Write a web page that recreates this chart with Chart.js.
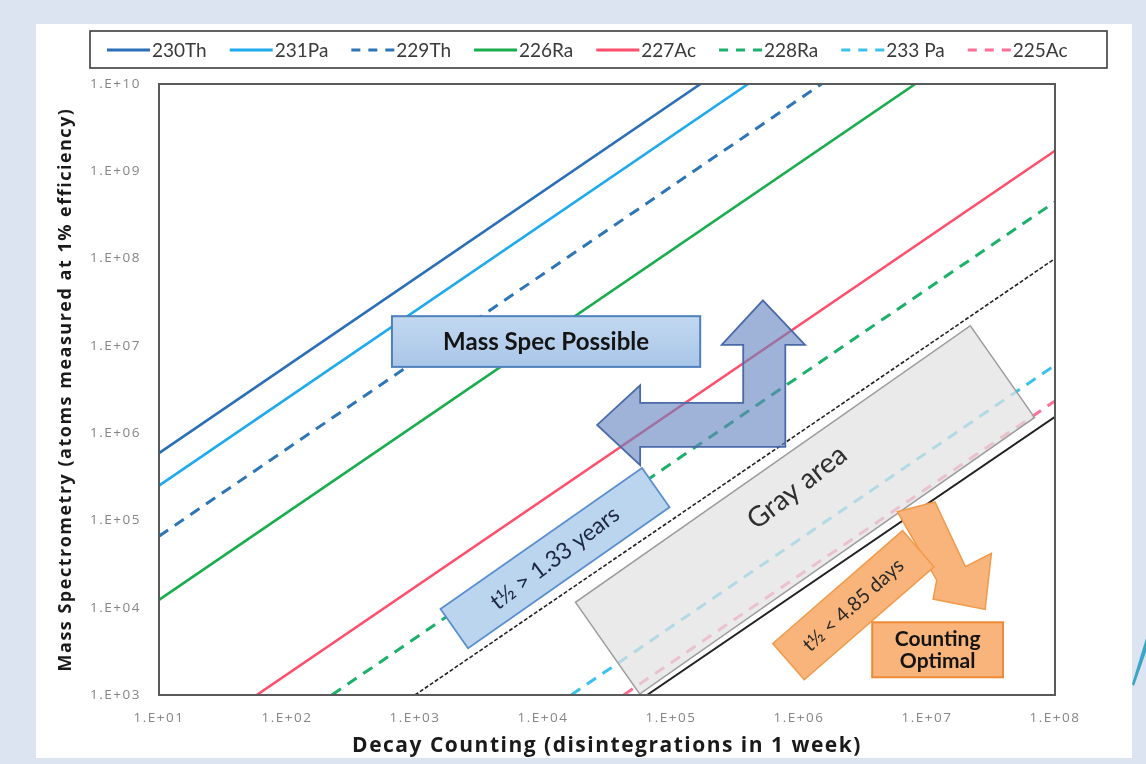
<!DOCTYPE html>
<html>
<head>
<meta charset="utf-8">
<script src="https://cdn.jsdelivr.net/npm/chart.js@4.4.1/dist/chart.umd.min.js"></script>
<style>
  html, body { margin: 0; padding: 0; background: #dbe4f0; }
  #wrap { width: 1146px; height: 764px; }
</style>
</head>
<body>
<div id="wrap"><canvas id="c" width="1146" height="764"></canvas></div>
<script>
// Isotope detection-limit lines: each is a straight line on log-log axes,
// given by its start and end point (atoms needed vs. decays per week).
const ISOTOPES = ['230Th', '231Pa', '229Th', '226Ra', '227Ac', '228Ra', '233 Pa', '225Ac'];
const X_START  = [10,     10,     10,     10,     58,     224,    1.66e4, 4.27e4];
const Y_START  = [5.9e5,  2.5e5,  6.6e4,  1.23e4, 1e3,    1e3,    1e3,    1e3];
const X_END    = [1.7e5,  4.0e5,  1.5e6,  8.1e6,  1e8,    1e8,    1e8,    1e8];
const Y_END    = [1e10,   1e10,   1e10,   1e10,   1.72e9, 4.46e8, 6.0e6,  2.34e6];

// Half-life boundary lines (black dotted / black solid)
const BOUNDS    = ['t½ = 1.33 years', 't½ = 4.85 days'];
const B_X_START = [1e3,  6.5e4];
const B_Y_START = [1e3,  1e3];
const B_X_END   = [1e8,  1e8];
const B_Y_END   = [1e8,  1.54e6];

const X_TICK_VALUES = [1e1, 1e2, 1e3, 1e4, 1e5, 1e6, 1e7, 1e8];
const X_TICK_LABELS = ['1.E+01', '1.E+02', '1.E+03', '1.E+04', '1.E+05', '1.E+06', '1.E+07', '1.E+08'];
const Y_TICK_VALUES = [1e3, 1e4, 1e5, 1e6, 1e7, 1e8, 1e9, 1e10];
const Y_TICK_LABELS = ['1.E+03', '1.E+04', '1.E+05', '1.E+06', '1.E+07', '1.E+08', '1.E+09', '1.E+10'];

// Line styling
const COLORS = ['#2a6fb8', '#1eaaec', '#2e75b6', '#1aad4e', '#ff4f6c', '#1cb06a', '#3cc0ec', '#ff6f93'];
const DASHED = [false, false, true, false, false, true, true, true];
const BOUND_COLORS = ['#222222', '#222222'];
const BOUND_DASH = [[4, 2], []];

const FONT = 'Lato, "Open Sans", sans-serif';
const AXIS_FONT = '"Open Sans", Lato, sans-serif';

const datasets = ISOTOPES.map((name, i) => ({
  label: name,
  data: [{ x: X_START[i], y: Y_START[i] }, { x: X_END[i], y: Y_END[i] }],
  borderColor: COLORS[i],
  backgroundColor: COLORS[i],
  borderWidth: DASHED[i] ? 3 : 2.6,
  borderDash: DASHED[i] ? [11, 8] : [],
  pointRadius: 0,
  showLine: true,
  fill: false,
  inLegend: true
}));
BOUNDS.forEach((name, i) => datasets.push({
  label: name,
  data: [{ x: B_X_START[i], y: B_Y_START[i] }, { x: B_X_END[i], y: B_Y_END[i] }],
  borderColor: BOUND_COLORS[i],
  borderWidth: i === 0 ? 1.6 : 2,
  borderDash: BOUND_DASH[i],
  pointRadius: 0,
  showLine: true,
  fill: false,
  inLegend: false
}));

// Slide background: blue-gray surround, white panel, teal accent stroke.
// Axis text is drawn with slightly open tracking.
const backdrop = {
  id: 'backdrop',
  beforeDraw(chart) {
    const ctx = chart.ctx;
    ctx.save();
    ctx.fillStyle = '#dbe4f0';
    ctx.fillRect(0, 0, chart.width, chart.height);
    ctx.fillStyle = '#ffffff';
    ctx.fillRect(36, 24, 1096, 734);
    ctx.fillStyle = '#3aa5c6';
    ctx.beginPath();
    ctx.moveTo(1132, 684);
    ctx.lineTo(1146, 638);
    ctx.lineTo(1146, 652);
    ctx.lineTo(1134, 686);
    ctx.closePath();
    ctx.fill();
    ctx.restore();
    ctx.letterSpacing = '1.5px';
  },
  beforeDatasetsDraw(chart) {
    chart.ctx.letterSpacing = '0px';
  }
};

function rotBox(ctx, cx, cy, w, h, deg, fill, stroke, lw) {
  ctx.save();
  ctx.translate(cx, cy);
  ctx.rotate(deg * Math.PI / 180);
  ctx.beginPath();
  ctx.rect(-w / 2, -h / 2, w, h);
  ctx.fillStyle = fill;
  ctx.fill();
  if (stroke) { ctx.strokeStyle = stroke; ctx.lineWidth = lw; ctx.stroke(); }
  ctx.restore();
}
function rotText(ctx, text, cx, cy, deg, font, color) {
  ctx.save();
  ctx.translate(cx, cy);
  ctx.rotate(deg * Math.PI / 180);
  ctx.font = font;
  ctx.fillStyle = color;
  ctx.textAlign = 'center';
  ctx.textBaseline = 'middle';
  ctx.fillText(text, 0, 0);
  ctx.restore();
}
function poly(ctx, pts, fill, stroke, lw) {
  ctx.beginPath();
  pts.forEach((p, i) => i ? ctx.lineTo(p[0], p[1]) : ctx.moveTo(p[0], p[1]));
  ctx.closePath();
  ctx.fillStyle = fill;
  ctx.fill();
  if (stroke) { ctx.strokeStyle = stroke; ctx.lineWidth = lw; ctx.lineJoin = 'miter'; ctx.stroke(); }
}

// Callout shapes, placed as fractions of the plotting area
const callouts = {
  id: 'callouts',
  afterDatasetsDraw(chart) {
    const { ctx, chartArea: a } = chart;
    const P = (u, v) => [a.left + u * (a.right - a.left), a.top + v * (a.bottom - a.top)];
    ctx.save();
    ctx.letterSpacing = '0px';

    // Gray area band
    const g = P(0.721, 0.697);
    rotBox(ctx, g[0], g[1], 482, 112, -35, 'rgba(226,226,226,0.72)', '#9c9c9c', 1.5);
    const gt = P(0.712, 0.660);
    rotText(ctx, 'Gray area', gt[0], gt[1], -38, '28px ' + FONT, '#2f2f2f');

    // Blue L-shaped arrow (up and left)
    const arrow = [
      [0.674, 0.354], [0.721, 0.427], [0.699, 0.427], [0.699, 0.594],
      [0.537, 0.594], [0.537, 0.624], [0.489, 0.558], [0.537, 0.493],
      [0.537, 0.522], [0.652, 0.522], [0.652, 0.427], [0.628, 0.427]
    ].map(p => P(p[0], p[1]));
    poly(ctx, arrow, 'rgba(100,132,192,0.62)', '#4a6aa8', 1.8);

    // "Mass Spec Possible" label box
    const m0 = P(0.260, 0.380), m1 = P(0.604, 0.463);
    const mg = ctx.createLinearGradient(0, m0[1], 0, m1[1]);
    mg.addColorStop(0, '#c3d8f0');
    mg.addColorStop(0.5, '#b6cfec');
    mg.addColorStop(1, '#a9c6e8');
    ctx.fillStyle = mg;
    ctx.fillRect(m0[0], m0[1], m1[0] - m0[0], m1[1] - m0[1]);
    ctx.strokeStyle = '#4f81bd';
    ctx.lineWidth = 2;
    ctx.strokeRect(m0[0], m0[1], m1[0] - m0[0], m1[1] - m0[1]);
    rotText(ctx, 'Mass Spec Possible', (m0[0] + m1[0]) / 2, (m0[1] + m1[1]) / 2 + 1, 0, 'bold 24px ' + FONT, '#141414');

    // Long half-life label
    const y1 = P(0.442, 0.776);
    rotBox(ctx, y1[0], y1[1], 246, 48, -35, '#bcd5ef', '#5b8fcf', 1.8);
    rotText(ctx, 't½ > 1.33 years', y1[0], y1[1], -37, '23px ' + FONT, '#1c2840');

    // Short half-life label with down-right arrow
    const orange = [
      [0.824, 0.700], [0.866, 0.684], [0.900, 0.790], [0.929, 0.768],
      [0.922, 0.860], [0.864, 0.843], [0.868, 0.812]
    ].map(p => P(p[0], p[1]));
    poly(ctx, orange, '#f8b47a', '#f29a4a', 1.5);
    const d1 = P(0.775, 0.853);
    rotBox(ctx, d1[0], d1[1], 172, 48, -41, '#f8b47a', '#f29a4a', 1.5);
    rotText(ctx, 't½ < 4.85 days', d1[0], d1[1], -42, '20px ' + FONT, '#2a2a2a');

    // "Counting Optimal" box
    const c0 = P(0.796, 0.881), c1 = P(0.942, 0.971);
    ctx.fillStyle = '#f9b47b';
    ctx.fillRect(c0[0], c0[1], c1[0] - c0[0], c1[1] - c0[1]);
    ctx.strokeStyle = '#ee8a36';
    ctx.lineWidth = 2;
    ctx.strokeRect(c0[0], c0[1], c1[0] - c0[0], c1[1] - c0[1]);
    const cx = (c0[0] + c1[0]) / 2, cy = (c0[1] + c1[1]) / 2;
    rotText(ctx, 'Counting', cx, cy - 11, 0, 'bold 21px ' + FONT, '#141414');
    rotText(ctx, 'Optimal', cx, cy + 11, 0, 'bold 21px ' + FONT, '#141414');

    // Plot frame
    ctx.strokeStyle = '#5a5a5a';
    ctx.lineWidth = 2;
    ctx.strokeRect(a.left, a.top, a.right - a.left, a.bottom - a.top);
    ctx.restore();
  }
};

// Horizontal legend in a framed box above the plot
const boxLegend = {
  id: 'boxLegend',
  afterDraw(chart) {
    const ctx = chart.ctx;
    const items = chart.data.datasets.filter(d => d.inLegend);
    ctx.save();
    ctx.letterSpacing = '0px';
    ctx.fillStyle = '#ffffff';
    ctx.fillRect(90, 31, 1017, 37);
    ctx.strokeStyle = '#3c3c3c';
    ctx.lineWidth = 1.6;
    ctx.strokeRect(90, 31, 1017, 37);
    ctx.font = '19px ' + FONT;
    ctx.textBaseline = 'middle';
    let x = 107;
    const y = 50;
    items.forEach(d => {
      ctx.strokeStyle = d.borderColor;
      ctx.lineWidth = 3;
      ctx.setLineDash(d.borderDash.length ? [9, 8] : []);
      ctx.beginPath();
      ctx.moveTo(x, y);
      ctx.lineTo(x + 43, y);
      ctx.stroke();
      ctx.setLineDash([]);
      ctx.fillStyle = '#3a3a3a';
      ctx.fillText(d.label, x + 45, y + 1);
      x += 45 + ctx.measureText(d.label).width + 23;
    });
    ctx.restore();
  }
};

const tickFont = { family: AXIS_FONT, size: 13.5 };

new Chart(document.getElementById('c'), {
  type: 'scatter',
  data: { datasets },
  options: {
    responsive: false,
    animation: false,
    devicePixelRatio: 1,
    layout: { padding: { left: 0, right: 91, top: 84, bottom: 0 } },
    plugins: { legend: { display: false }, tooltip: { enabled: false } },
    scales: {
      x: {
        type: 'logarithmic',
        min: 1e1, max: 1e8,
        afterBuildTicks: s => { s.ticks = X_TICK_VALUES.map(v => ({ value: v })); },
        afterFit: s => { s.height = 69; },
        grid: { display: false, drawTicks: false },
        border: { display: false },
        ticks: {
          autoSkip: false, maxRotation: 0, padding: 15,
          font: tickFont, color: '#858585',
          callback: (v) => X_TICK_LABELS[X_TICK_VALUES.indexOf(v)] ?? ''
        },
        title: {
          display: true,
          text: 'Decay Counting (disintegrations in 1 week)',
          font: { family: AXIS_FONT, size: 21, weight: 'bold' },
          color: '#1a1a1a',
          padding: { top: 0, bottom: 5 }
        }
      },
      y: {
        type: 'logarithmic',
        min: 1e3, max: 1e10,
        afterBuildTicks: s => { s.ticks = Y_TICK_VALUES.map(v => ({ value: v })); },
        afterFit: s => { s.width = 159; },
        grid: { display: false, drawTicks: false },
        border: { display: false },
        ticks: {
          autoSkip: false, padding: 18,
          font: tickFont, color: '#858585',
          callback: (v) => Y_TICK_LABELS[Y_TICK_VALUES.indexOf(v)] ?? ''
        },
        title: {
          display: true,
          text: 'Mass Spectrometry (atoms measured at 1% efficiency)',
          font: { family: AXIS_FONT, size: 18, weight: 'bold' },
          color: '#1a1a1a',
          padding: { top: 55, bottom: 0 }
        }
      }
    }
  },
  plugins: [backdrop, callouts, boxLegend]
});
</script>
</body>
</html>
